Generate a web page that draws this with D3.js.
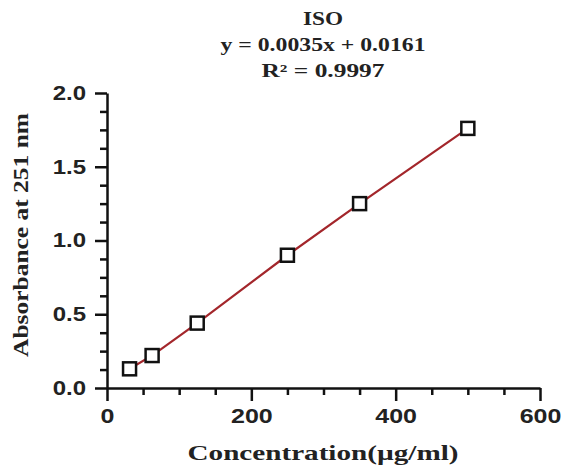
<!DOCTYPE html>
<html>
<head>
<meta charset="utf-8">
<title>ISO calibration curve</title>
<script src="https://d3js.org/d3.v7.min.js"></script>
<style>
  body { margin: 0; background: #fff; }
  .tick text { font-family: "Liberation Sans", Arial, sans-serif; font-weight: bold; font-size: 20px; fill: #222; }
  .serif { font-family: "Liberation Serif", "Times New Roman", serif; font-weight: bold; fill: #222; }
</style>
</head>
<body>
<svg width="562" height="468"></svg>
<script>
// data
var concentration = [31.25, 62.5, 125, 250, 350, 500];
var absorbance = [0.13, 0.22, 0.44, 0.90, 1.25, 1.76];

var xTicks = [0, 200, 400, 600];
var xMinor = [50, 100, 150, 250, 300, 350, 450, 500, 550];
var yTicks = [0, 0.5, 1.0, 1.5, 2.0];
var yMinor = [0.125, 0.25, 0.375, 0.625, 0.75, 0.875, 1.125, 1.25, 1.375, 1.625, 1.75, 1.875];

var titleLines = ["ISO", "y = 0.0035x + 0.0161", "R\u00B2 = 0.9997"];
var xLabel = "Concentration(\u00B5g/ml)";
var yLabel = "Absorbance at 251 nm";

var svg = d3.select("svg");

var x = d3.scaleLinear().domain([0, 600]).range([107, 540]);
var y = d3.scaleLinear().domain([0, 2]).range([388, 93]);

// stretch text horizontally like the (stretched) source image
function stretch(sel, k) {
  sel.each(function() {
    var w = this.getComputedTextLength();
    d3.select(this).attr("textLength", w * k).attr("lengthAdjust", "spacingAndGlyphs");
  });
}

// minor ticks
svg.append("g")
  .attr("transform", "translate(0,388)")
  .call(d3.axisBottom(x).tickValues(xMinor).tickSize(7).tickFormat(""))
  .call(function(g) { g.select(".domain").remove(); });
svg.append("g")
  .attr("transform", "translate(107,0)")
  .call(d3.axisLeft(y).tickValues(yMinor).tickSize(7).tickFormat(""))
  .call(function(g) { g.select(".domain").remove(); });

// major axes
var gx = svg.append("g")
  .attr("transform", "translate(0,388)")
  .call(d3.axisBottom(x).tickValues(xTicks).tickSize(13).tickSizeOuter(0).tickPadding(8));
var gy = svg.append("g")
  .attr("transform", "translate(107,0)")
  .call(d3.axisLeft(y).tickValues(yTicks).tickSize(12).tickSizeOuter(0).tickPadding(9)
    .tickFormat(d3.format(".1f")));

svg.selectAll(".tick line").attr("stroke", "#111").attr("stroke-width", 2.5);
svg.selectAll(".domain").attr("stroke", "#111").attr("stroke-width", 2.5);
stretch(gx.selectAll(".tick text"), 1.25);
stretch(gy.selectAll(".tick text"), 1.2);

// line through points
var line = d3.line()
  .x(function(d, i) { return x(concentration[i]); })
  .y(function(d) { return y(d); });

svg.append("path")
  .datum(absorbance)
  .attr("d", line)
  .attr("fill", "none")
  .attr("stroke", "#a3262b")
  .attr("stroke-width", 2.2);

// open square markers
var s = 13;
svg.selectAll(".pt")
  .data(absorbance)
  .enter().append("rect")
  .attr("class", "pt")
  .attr("x", function(d, i) { return x(concentration[i]) - s / 2; })
  .attr("y", function(d) { return y(d) - s / 2; })
  .attr("width", s)
  .attr("height", s)
  .attr("fill", "#fff")
  .attr("stroke", "#111")
  .attr("stroke-width", 2.5);

// title block
var titleWidths = [40, 205, 123];
svg.selectAll(".title")
  .data(titleLines)
  .enter().append("text")
  .attr("class", "serif title")
  .attr("x", 323)
  .attr("y", function(d, i) { return 25 + i * 26; })
  .attr("text-anchor", "middle")
  .attr("font-size", 18)
  .attr("textLength", function(d, i) { return titleWidths[i]; })
  .attr("lengthAdjust", "spacingAndGlyphs")
  .text(function(d) { return d; });

// axis titles
svg.append("text")
  .attr("class", "serif")
  .attr("x", 323)
  .attr("y", 460)
  .attr("text-anchor", "middle")
  .attr("font-size", 22)
  .attr("textLength", 271)
  .attr("lengthAdjust", "spacingAndGlyphs")
  .text(xLabel);

svg.append("text")
  .attr("class", "serif")
  .attr("transform", "translate(28,235) rotate(-90)")
  .attr("text-anchor", "middle")
  .attr("font-size", 21)
  .attr("textLength", 244)
  .attr("lengthAdjust", "spacingAndGlyphs")
  .text(yLabel);
</script>
</body>
</html>
